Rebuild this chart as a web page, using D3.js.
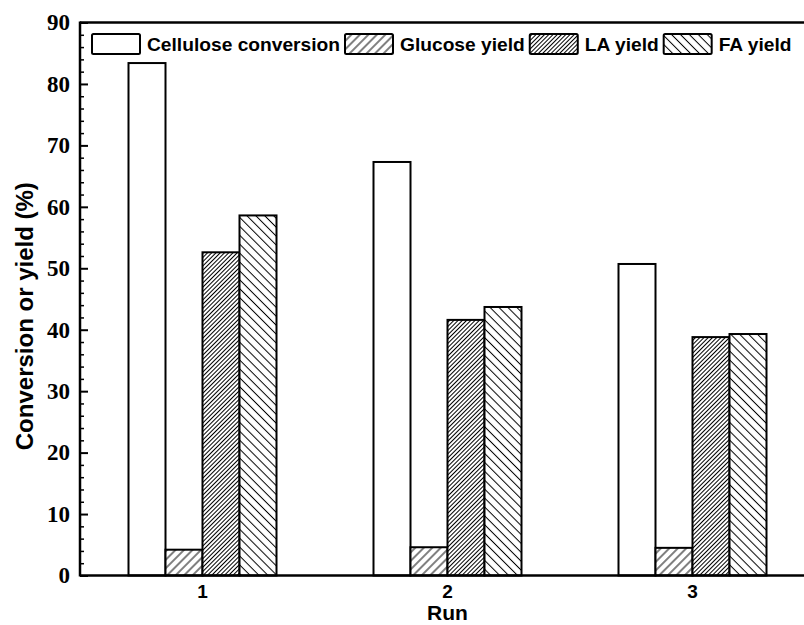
<!DOCTYPE html>
<html>
<head>
<meta charset="utf-8">
<script src="https://cdn.jsdelivr.net/npm/d3@7"></script>
<style>
  body { margin: 0; background: #fff; }
  svg { display: block; }
</style>
</head>
<body>
<div id="chart"></div>
<script>
// data
var runs = [1, 2, 3];
var seriesNames = ["Cellulose conversion", "Glucose yield", "LA yield", "FA yield"];
var cellulose = [83.4, 67.3, 50.7];
var glucose = [4.2, 4.6, 4.5];
var laYield = [52.6, 41.6, 38.8];
var faYield = [58.6, 43.7, 39.3];
var yTicks = [0, 10, 20, 30, 40, 50, 60, 70, 80, 90];

var width = 804, height = 625;
var plot = {left: 80, top: 22.5, bottom: 575.5, right: 815};

var svg = d3.select('#chart').append('svg')
  .attr('width', width)
  .attr('height', height);

// hatch fills
var defs = svg.append('defs');
function hatch(id, size, angle) {
  var p = defs.append('pattern')
    .attr('id', id)
    .attr('patternUnits', 'userSpaceOnUse')
    .attr('width', size)
    .attr('height', size)
    .attr('patternTransform', 'rotate(' + angle + ')');
  p.append('rect').attr('width', size).attr('height', size).attr('fill', '#fff');
  p.append('line')
    .attr('x1', size / 2).attr('y1', 0)
    .attr('x2', size / 2).attr('y2', size)
    .attr('stroke', '#000')
    .attr('stroke-width', 1);
}
hatch('hGlu', 6, 45);
hatch('hLA', 3, 45);
hatch('hFA', 6.3, -45);
var fills = ['#fff', 'url(#hGlu)', 'url(#hLA)', 'url(#hFA)'];

var x = d3.scaleLinear().domain([0.5, 3.5]).range([plot.left, plot.right]);
var y = d3.scaleLinear().domain([0, 90]).range([plot.bottom, plot.top]);
var xInner = d3.scaleBand().domain(d3.range(4)).range([-74, 74]);

var rows = [];
runs.forEach(function(r, i) {
  [cellulose, glucose, laYield, faYield].forEach(function(arr, k) {
    rows.push({run: r, k: k, v: arr[i]});
  });
});

svg.append('g').selectAll('rect')
  .data(rows)
  .enter().append('rect')
    .attr('x', function(d) { return x(d.run) + xInner(d.k); })
    .attr('y', function(d) { return y(d.v); })
    .attr('width', xInner.bandwidth())
    .attr('height', function(d) { return y(0) - y(d.v); })
    .attr('fill', function(d) { return fills[d.k]; })
    .attr('stroke', '#000')
    .attr('stroke-width', 2);

// y axis, ticks point inward
var yAxis = svg.append('g')
  .attr('transform', 'translate(' + plot.left + ',0)')
  .call(d3.axisLeft(y).tickValues(yTicks).tickSize(-8).tickPadding(10).tickFormat(d3.format('d')));
yAxis.select('.domain').remove();
yAxis.selectAll('line').attr('stroke-width', 2);
yAxis.selectAll('text')
  .attr('font-family', '"Liberation Serif", "Times New Roman", serif')
  .attr('font-weight', 'bold')
  .attr('font-size', 23)
  .attr('fill', '#000');

var yMinor = svg.append('g')
  .attr('transform', 'translate(' + plot.left + ',0)')
  .call(d3.axisLeft(y).tickValues(d3.range(0, 91, 2).filter(function(v) { return v % 10; }))
    .tickSize(-4).tickFormat(''));
yMinor.select('.domain').remove();
yMinor.selectAll('line').attr('stroke-width', 1.5);

// frame lines
svg.append('line')
  .attr('x1', plot.left).attr('x2', width)
  .attr('y1', y(0)).attr('y2', y(0))
  .attr('stroke', '#000').attr('stroke-width', 2.5);
svg.append('line')
  .attr('x1', plot.left).attr('x2', width)
  .attr('y1', y(90)).attr('y2', y(90))
  .attr('stroke', '#000').attr('stroke-width', 2.5);
svg.append('line')
  .attr('x1', plot.left).attr('x2', plot.left)
  .attr('y1', y(90) - 1).attr('y2', y(0) + 1)
  .attr('stroke', '#000').attr('stroke-width', 2.5);

// x tick labels
var sans = '"Liberation Sans", Arial, sans-serif';
svg.append('g').selectAll('text')
  .data(runs)
  .enter().append('text')
    .attr('x', function(d) { return x(d); })
    .attr('y', 598)
    .attr('text-anchor', 'middle')
    .attr('font-family', sans)
    .attr('font-weight', 'bold')
    .attr('font-size', 19)
    .text(function(d) { return d; });

svg.append('text')
  .attr('x', x(2))
  .attr('y', 620)
  .attr('text-anchor', 'middle')
  .attr('font-family', sans)
  .attr('font-weight', 'bold')
  .attr('font-size', 21)
  .text('Run');

svg.append('text')
  .attr('transform', 'translate(33,' + y(42.2) + ') rotate(-90)')
  .attr('text-anchor', 'middle')
  .attr('font-family', sans)
  .attr('font-weight', 'bold')
  .attr('font-size', 24)
  .text('Conversion or yield (%)');

// legend
var lx = 92;
seriesNames.forEach(function(name, k) {
  svg.append('rect')
    .attr('x', lx).attr('y', 34)
    .attr('width', 48).attr('height', 20)
    .attr('rx', 1.5)
    .attr('fill', fills[k])
    .attr('stroke', '#000')
    .attr('stroke-width', 2);
  var t = svg.append('text')
    .attr('x', lx + 55)
    .attr('y', 51)
    .attr('font-family', sans)
    .attr('font-weight', 'bold')
    .attr('font-size', 19.2)
    .text(name);
  lx = lx + 55 + t.node().getComputedTextLength() + 5;
});
</script>
</body>
</html>
